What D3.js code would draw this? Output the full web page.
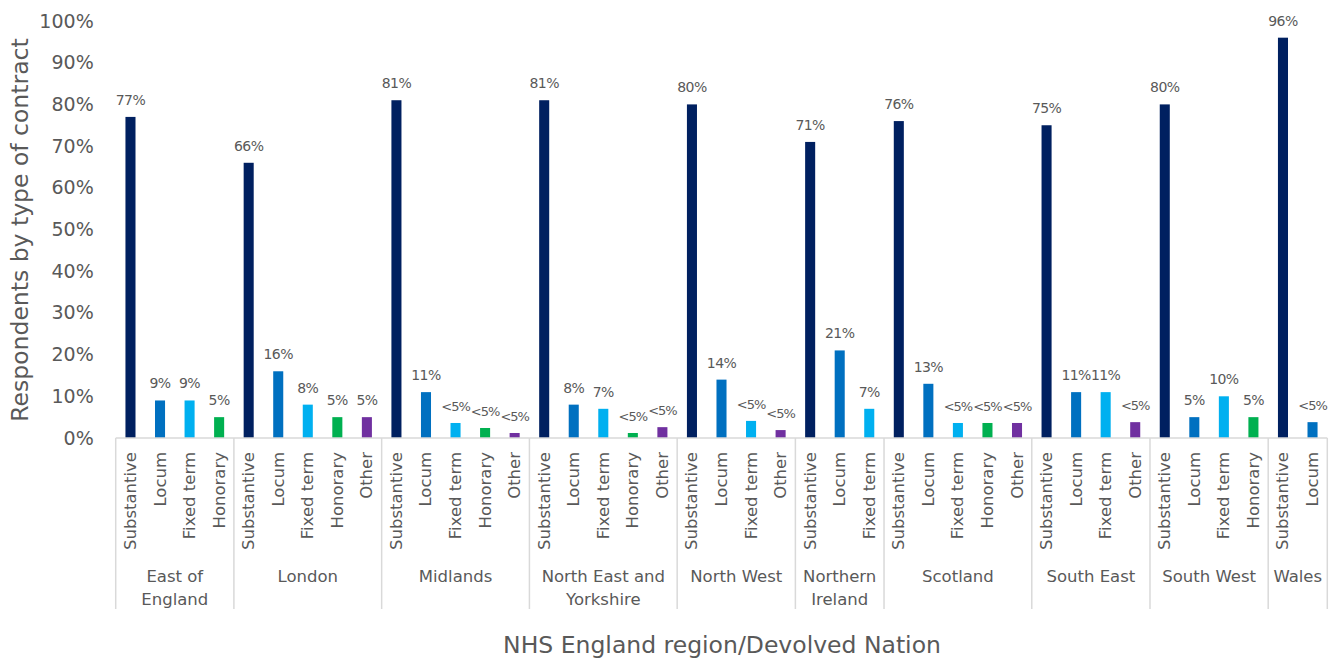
<!DOCTYPE html>
<html>
<head>
<meta charset="utf-8">
<script src="https://cdn.jsdelivr.net/npm/d3@7"></script>
<style>
  html, body { margin: 0; padding: 0; background: #fff; }
  svg { display: block; font-family: "DejaVu Sans", sans-serif; }
</style>
</head>
<body>
<svg id="chart" width="1333" height="660"></svg>
<script>
// Regions / devolved nations, in display order (line breaks for wrapped names)
const regions = [
  ["East of", "England"],
  ["London"],
  ["Midlands"],
  ["North East and", "Yorkshire"],
  ["North West"],
  ["Northern", "Ireland"],
  ["Scotland"],
  ["South East"],
  ["South West"],
  ["Wales"]
];

// Contract types reported in each region
const regionTypes = [
  ["Substantive", "Locum", "Fixed term", "Honorary"],
  ["Substantive", "Locum", "Fixed term", "Honorary", "Other"],
  ["Substantive", "Locum", "Fixed term", "Honorary", "Other"],
  ["Substantive", "Locum", "Fixed term", "Honorary", "Other"],
  ["Substantive", "Locum", "Fixed term", "Other"],
  ["Substantive", "Locum", "Fixed term"],
  ["Substantive", "Locum", "Fixed term", "Honorary", "Other"],
  ["Substantive", "Locum", "Fixed term", "Other"],
  ["Substantive", "Locum", "Fixed term", "Honorary"],
  ["Substantive", "Locum"]
];

// Share of respondents (%) by contract type; values under 5 are shown as "<5%"
const regionValues = [
  [77, 9, 9, 5],
  [66, 16, 8, 5, 5],
  [81, 11, 3.6, 2.4, 1.2],
  [81, 8, 7, 1.2, 2.6],
  [80, 14, 4.1, 1.9],
  [71, 21, 7],
  [76, 13, 3.6, 3.6, 3.6],
  [75, 11, 11, 3.8],
  [80, 5, 10, 5],
  [96, 3.8]
];

const yTicks = [0, 10, 20, 30, 40, 50, 60, 70, 80, 90, 100];

const typeColors = {
  "Substantive": "#002060",
  "Locum": "#0070c0",
  "Fixed term": "#00b0f0",
  "Honorary": "#00b050",
  "Other": "#7030a0"
};

// Flatten into one slot per bar
const slots = [];
regionTypes.forEach((types, g) => {
  types.forEach((t, i) => {
    slots.push({ id: g + "-" + i, group: g, type: t, value: regionValues[g][i] });
  });
});

const svg = d3.select("#chart");
const left = 115.7, right = 1327.3, baseY = 438, topY = 21;

const x = d3.scaleBand().domain(slots.map(d => d.id)).range([left, right]).padding(0);
const y = d3.scaleLinear().domain([0, 100]).range([baseY, topY]);
const bw = x.bandwidth();
const barW = bw * 0.34;

// Y axis
const yAxis = svg.append("g")
  .attr("transform", `translate(${left},0)`)
  .call(d3.axisLeft(y).tickValues(yTicks).tickFormat(d => d + "%").tickSize(0).tickPadding(22));
yAxis.select(".domain").remove();
yAxis.selectAll("text")
  .attr("font-family", "DejaVu Sans, sans-serif")
  .attr("font-size", 19)
  .attr("fill", "#595959");

// Bars
svg.append("g").selectAll("rect")
  .data(slots)
  .join("rect")
  .attr("x", d => x(d.id) + (bw - barW) / 2)
  .attr("width", barW)
  .attr("y", d => y(d.value))
  .attr("height", d => baseY - y(d.value))
  .attr("fill", d => typeColors[d.type]);

// Value labels
svg.append("g").selectAll("text")
  .data(slots)
  .join("text")
  .attr("x", d => x(d.id) + bw / 2)
  .attr("y", d => y(d.value) - 12)
  .attr("text-anchor", "middle")
  .attr("font-size", d => d.value < 5 ? 13 : 14)
  .attr("letter-spacing", d => d.value < 5 ? -1 : -0.6)
  .attr("fill", "#595959")
  .text(d => d.value < 5 ? "<5%" : d3.format("d")(d.value) + "%");

// Baseline
svg.append("line")
  .attr("x1", left).attr("x2", right)
  .attr("y1", baseY).attr("y2", baseY)
  .attr("stroke", "#d9d9d9").attr("stroke-width", 1.5);

// Group separators
const groupBounds = [];
regionTypes.forEach((types, g) => {
  const ids = slots.filter(s => s.group === g).map(s => s.id);
  groupBounds.push({ g, x0: x(ids[0]), x1: x(ids[ids.length - 1]) + bw });
});
const sepX = [left].concat(groupBounds.map(b => b.x1));
svg.append("g").selectAll("line")
  .data(sepX)
  .join("line")
  .attr("x1", d => d).attr("x2", d => d)
  .attr("y1", baseY).attr("y2", 609)
  .attr("stroke", "#d9d9d9").attr("stroke-width", 1.5);

// Contract type labels (rotated)
svg.append("g").selectAll("text")
  .data(slots)
  .join("text")
  .attr("transform", d => `translate(${x(d.id) + bw / 2},452) rotate(-90)`)
  .attr("text-anchor", "end")
  .attr("dominant-baseline", "central")
  .attr("font-size", 16.5)
  .attr("fill", "#595959")
  .text(d => d.type);

// Region labels
const gl = svg.append("g").selectAll("text")
  .data(groupBounds)
  .join("text")
  .attr("x", d => (d.x0 + d.x1) / 2)
  .attr("y", 576)
  .attr("text-anchor", "middle")
  .attr("dominant-baseline", "central")
  .attr("font-size", 16.5)
  .attr("fill", "#595959");
gl.selectAll("tspan")
  .data(d => regions[d.g].map(line => ({ line, cx: (d.x0 + d.x1) / 2 })))
  .join("tspan")
  .attr("x", d => d.cx)
  .attr("dy", (d, i) => i === 0 ? 0 : 22.5)
  .text(d => d.line);

// Axis titles
svg.append("text")
  .attr("x", 722)
  .attr("y", 645)
  .attr("text-anchor", "middle")
  .attr("dominant-baseline", "central")
  .attr("font-size", 23.5)
  .attr("fill", "#595959")
  .text("NHS England region/Devolved Nation");

svg.append("text")
  .attr("transform", "translate(20,230) rotate(-90)")
  .attr("text-anchor", "middle")
  .attr("dominant-baseline", "central")
  .attr("font-size", 23.5)
  .attr("fill", "#595959")
  .text("Respondents by type of contract");
</script>
</body>
</html>
